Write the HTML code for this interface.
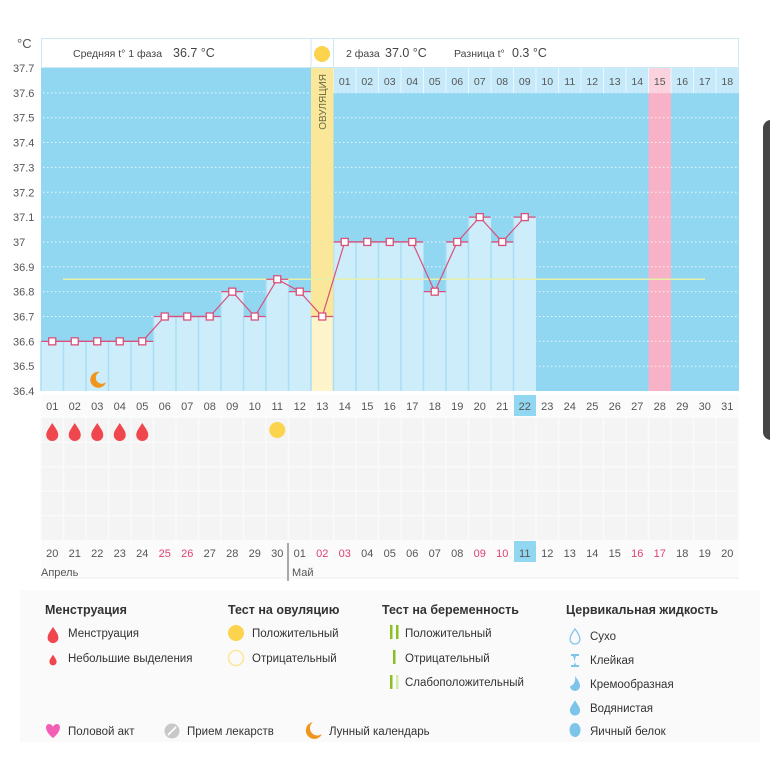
<!DOCTYPE html>
<html><head><meta charset="utf-8"><style>
body{margin:0;width:770px;height:759px;background:#fff;overflow:hidden;font-family:"Liberation Sans","DejaVu Sans",sans-serif}
svg text{font-family:"Liberation Sans","DejaVu Sans",sans-serif}
</style></head><body>
<svg id="s" width="770" height="759" xmlns="http://www.w3.org/2000/svg"></svg>
<script>
var s=document.getElementById('s'),h='';
var L=41,W=22.5,T=68,B=391,K=24.85;
function y(t){return T+(37.7-t)*10*K}
function cx(i){return L+(i-0.5)*W}
// backgrounds
h+='<rect x="0" y="0" width="770" height="759" fill="#fff"/>';
h+='<rect x="20" y="590" width="740" height="152" fill="#fafafa"/>';
h+='<rect x="41" y="395" width="698" height="183" fill="#fbfbfb"/>';
h+='<rect x="41" y="418" width="698" height="122" fill="#f4f4f4"/>';
for(var i=0;i<=31;i++)h+='<line x1="'+(L+i*W)+'" y1="418" x2="'+(L+i*W)+'" y2="540" stroke="#fafafa" stroke-width="1.5"/>';
for(var r=1;r<5;r++)h+='<line x1="41" y1="'+(418+r*24.4)+'" x2="739" y2="'+(418+r*24.4)+'" stroke="#fafafa" stroke-width="1.5"/>';
h+='<line x1="41" y1="578" x2="739" y2="578" stroke="#eee"/>';
// header
h+='<rect x="41.5" y="38.5" width="697" height="29" fill="#fff" stroke="#cde9f6"/>';
h+='<text x="73" y="57" font-size="10.5" fill="#444">Средняя t° 1 фаза</text><text x="173" y="57" font-size="12.5" fill="#444">36.7 °C</text>';
h+='<circle cx="322" cy="54" r="8" fill="#fbd34d"/>';
h+='<text x="346" y="57" font-size="10.5" fill="#444">2 фаза</text><text x="385" y="57" font-size="12.5" fill="#444">37.0 °C</text>';
h+='<text x="454" y="57" font-size="10.5" fill="#444">Разница t°</text><text x="512" y="57" font-size="12.5" fill="#444">0.3 °C</text>';
h+='<line x1="311" y1="38" x2="311" y2="67" stroke="#cde9f6"/><line x1="333.5" y1="38" x2="333.5" y2="67" stroke="#cde9f6"/>';
// plot bg
h+='<rect x="41" y="68" width="698" height="323" fill="#92d7f2"/>';
h+='<rect x="'+(L+27*W)+'" y="68" width="'+W+'" height="323" fill="#f7b2c7"/>';
// grid lines
for(var k=1;k<13;k++){h+='<line x1="43" y1="'+(T+k*K)+'" x2="739" y2="'+(T+k*K)+'" stroke="#fff" stroke-opacity="0.8" stroke-dasharray="1.5,2.5"/>';}
// phase 2 day row
h+='<rect x="333.5" y="68" width="405.5" height="25" fill="#c6eafa"/>';
for(var i=0;i<18;i++){var x=333.5+i*W;var pk=(i==14);
 if(pk)h+='<rect x="'+x+'" y="68" width="'+W+'" height="25" fill="#fbd3df"/>';
 h+='<line x1="'+x+'" y1="68" x2="'+x+'" y2="93" stroke="#eaf7fd"/>';
 h+='<text x="'+(x+W/2)+'" y="85" font-size="10.5" fill="#555" text-anchor="middle">'+(i<9?'0':'')+(i+1)+'</text>';}
// y labels
h+='<text x="17" y="48" font-size="13" fill="#555">°C</text>';
for(var k=0;k<=13;k++){var v=(37.7-k*0.1);var lab=(Math.round(v*10)/10).toString();h+='<text x="13" y="'+(T+k*K+4)+'" font-size="11" fill="#555">'+lab+'</text>';}
// data
var d=[36.6,36.6,36.6,36.6,36.6,36.7,36.7,36.7,36.8,36.7,36.85,36.8,36.7,37,37,37,37,36.8,37,37.1,37,37.1];
for(var i=0;i<d.length;i++){var x=L+i*W,yy=y(d[i]);
 if(i==12){h+='<rect x="'+x+'" y="68" width="'+W+'" height="'+(yy-68)+'" fill="#fbe79a"/><rect x="'+x+'" y="'+yy+'" width="'+W+'" height="'+(B-yy)+'" fill="#fdf4cc"/>';}
 else h+='<rect x="'+x+'" y="'+yy+'" width="'+W+'" height="'+(B-yy)+'" fill="#cdedfb"/>';
 h+='<line x1="'+x+'" y1="'+yy+'" x2="'+x+'" y2="'+B+'" stroke="#a9def4" stroke-width="1.5"/>';}
h+='<rect x="311" y="68" width="22.5" height="248" fill="#fbe79a"/>';
h+='<text transform="translate(326,74) rotate(-90)" font-size="10" fill="#6a6a4a" text-anchor="end">ОВУЛЯЦИЯ</text>';
h+='<line x1="63" y1="'+y(36.85)+'" x2="705" y2="'+y(36.85)+'" stroke="#e6f0a8" stroke-width="1.5"/>';
var p='';for(var i=0;i<d.length;i++){p+=(i?' ':'')+cx(i+1)+','+y(d[i]);}
h+='<polyline points="'+p+'" fill="none" stroke="#d9507a" stroke-width="1.2"/>';
for(var i=0;i<d.length;i++){var x=cx(i+1),yy=y(d[i]);
 h+='<line x1="'+(x-11)+'" y1="'+yy+'" x2="'+(x+11)+'" y2="'+yy+'" stroke="#d9507a" stroke-width="1.3"/>';
 h+='<rect x="'+(x-3.5)+'" y="'+(yy-3.5)+'" width="7" height="7" fill="#fff" stroke="#d9507a" stroke-width="1.3"/>';}
// moon
h+='<path d="M100 372 a8 8 0 1 0 6 10 a6 6 0 1 1 -6 -10z" fill="#f0961e"/>';
// day labels
h+='<rect x="514" y="395" width="22" height="21" fill="#92d7f2"/>';
for(var i=1;i<=31;i++)h+='<text x="'+cx(i)+'" y="410" font-size="11" fill="#555" text-anchor="middle">'+(i<10?'0':'')+i+'</text>';
// drops
function drop(x,yy,sc,c){return '<path transform="translate('+x+','+yy+') scale('+sc+')" d="M0 -9 C3 -4 6 -1 6 3 A6 6 0 0 1 -6 3 C-6 -1 -3 -4 0 -9Z" fill="'+c+'"/>';}
for(var i=1;i<=5;i++)h+=drop(cx(i),432,1,'#f0464e');
h+='<circle cx="'+cx(11)+'" cy="430" r="8" fill="#fbd34d"/>';
// dates
var dates=['20','21','22','23','24','25','26','27','28','29','30','01','02','03','04','05','06','07','08','09','10','11','12','13','14','15','16','17','18','19','20'];
var red=[5,6,12,13,19,20,26,27];
h+='<rect x="514" y="541" width="22" height="21" fill="#92d7f2"/>';
for(var i=0;i<31;i++){h+='<text x="'+cx(i+1)+'" y="557" font-size="11" fill="'+(red.indexOf(i)>=0?'#e0416e':'#555')+'" text-anchor="middle">'+dates[i]+'</text>';}
h+='<line x1="288" y1="543" x2="288" y2="581" stroke="#555"/>';
h+='<text x="41" y="576" font-size="11" fill="#555">Апрель</text><text x="292" y="576" font-size="11" fill="#555">Май</text>';
// legend
function t(x,yy,s,b){return '<text x="'+x+'" y="'+yy+'" font-size="'+(b?12.5:11.5)+'" '+(b?'font-weight="bold" ':'')+'fill="#333">'+s+'</text>';}
h+=t(45,614,'Менструация',1)+t(228,614,'Тест на овуляцию',1)+t(382,614,'Тест на беременность',1)+t(566,614,'Цервикальная жидкость',1);
h+=drop(53,635,0.9,'#f0464e')+t(68,637,'Менструация');
h+=drop(53,660,0.6,'#f0464e')+t(68,662,'Небольшие выделения');
h+='<circle cx="236" cy="633" r="8" fill="#fbd34d"/>'+t(252,637,'Положительный');
h+='<circle cx="236" cy="658" r="7.5" fill="none" stroke="#fbe79a" stroke-width="1.5"/>'+t(252,662,'Отрицательный');
h+='<rect x="390" y="625" width="2.5" height="14" fill="#8cbf26"/><rect x="396" y="625" width="2.5" height="14" fill="#8cbf26"/>'+t(405,637,'Положительный');
h+='<rect x="393" y="650" width="2.5" height="14" fill="#8cbf26"/>'+t(405,662,'Отрицательный');
h+='<rect x="390" y="675" width="2.5" height="14" fill="#8cbf26"/><rect x="396" y="675" width="2.5" height="14" fill="#d6eab0"/>'+t(405,686,'Слабоположительный');
h+='<path transform="translate(575,637)" d="M0 -8 C3 -4 5 -1 5 2 A5 5 0 0 1 -5 2 C-5 -1 -3 -4 0 -8Z" fill="none" stroke="#7cc4ea" stroke-width="1.2"/>'+t(590,640,'Сухо');
h+='<path d="M571 654h8v2h-3l-1 3-0 3 1 3h3v2h-8v-2h3l1-3-1-3 -1-3h-2z" fill="#7cc4ea"/>'+t(590,664,'Клейкая');
h+='<path transform="translate(575,684)" d="M0 -8 C3 -4 5 -1 5 2 A5 5 0 0 1 -5 2 C-2 2 1 -2 0 -8Z" fill="#7cc4ea"/>'+t(590,688,'Кремообразная');
h+=drop(575,708,0.85,'#7cc4ea')+t(590,712,'Водянистая');
h+='<ellipse cx="575" cy="730" rx="5.5" ry="7" fill="#7cc4ea"/>'+t(590,735,'Яичный белок');
h+='<path d="M53 738 C44 731 45 724 49 724 C51 724 53 726 53 727 C53 726 55 724 57 724 C61 724 62 731 53 738Z" fill="#f25fb5"/>'+t(68,735,'Половой акт');
h+='<circle cx="172" cy="731" r="7.5" fill="#c8c8c8"/><line x1="168" y1="735" x2="176" y2="727" stroke="#fff" stroke-width="1.8"/>'+t(187,735,'Прием лекарств');
h+='<path d="M313 722 a8.5 8.5 0 1 0 9 12 a7 7 0 1 1 -9 -12z" fill="#f0961e"/>'+t(329,735,'Лунный календарь');
// right dark bar
h+='<rect x="763" y="120" width="20" height="320" rx="8" fill="#454545"/>';
s.innerHTML=h;
</script>
</body></html>
